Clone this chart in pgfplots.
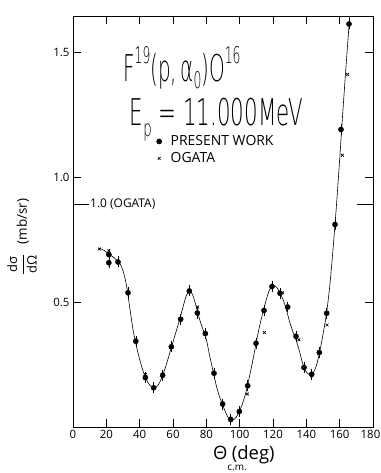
\documentclass[border=0pt]{standalone}
\usepackage{pgfplots}
\pgfplotsset{compat=1.18}
\usepackage{fontspec}
\usepackage{graphicx}
\setmainfont{Open Sans}
\newfontfamily\leroy{DejaVuSans-ExtraLight.ttf}

\newcommand{\titlefont}{\leroy\fontsize{37}{40}\selectfont}
\newcommand{\scriptfnt}{\leroy\fontsize{23}{24}\selectfont}

\begin{document}
\begin{tikzpicture}
\begin{axis}[
  scale only axis, width=300bp, height=411bp,
  xmin=0, xmax=180, ymin=0, ymax=1.644,
  xtick={0,20,...,160},
  extra x ticks={180},
  extra x tick style={xticklabel style={xshift=-2.5bp}},
  ytick={0.5,1.0,1.5},
  y tick label style={/pgf/number format/.cd, fixed, fixed zerofill, precision=1, /tikz/.cd},
  /pgf/number format/assume math mode=true,
  tick align=inside,
  major tick length=8bp,
  tick style={black, line width=0.6pt},
  axis line style={line width=0.8pt},
  ticklabel style={font=\fontsize{11.5}{12}\selectfont},
  extra y ticks={0.89}, extra y tick labels={},
  extra y tick style={major tick length=16bp},
  xlabel={Θ\rlap{\raisebox{-0.58em}{\fontsize{10}{10}\selectfont c.m.}}\hspace{0.25em}(deg)},
  xlabel style={font=\fontsize{18.5}{18.5}\selectfont, at={(axis description cs:0.455,-0.080)}, anchor=base west},
  ylabel={$\displaystyle\frac{\hbox{\fontsize{13}{13}\selectfont dσ}}{\hbox{\fontsize{13}{13}\selectfont dΩ}}$\hspace{10bp}(mb/sr)},
  ylabel style={font=\fontsize{13.5}{13.5}\selectfont, at={(axis description cs:-0.17,0.463)}, anchor=center},
  legend style={draw=none, fill=none, at={(axis cs:48,1.173)}, anchor=north west,
    font=\fontsize{14}{16}\selectfont, row sep=2bp, inner sep=0pt,
    nodes={inner sep=1.5bp, text height=10bp, text depth=2bp}},
  legend cell align=left,
  legend image code/.code={\draw[only marks] plot coordinates {(6bp,0bp)}; \path[draw=none] (0bp,0bp) -- (16bp,0bp);},
]

% fitted curve through the measurements
\addplot[black, line width=0.6pt, smooth, forget plot] coordinates {
(16,0.715)(19,0.705)(22,0.69)(25,0.675)(28,0.655)(30,0.625)(32,0.57)(34,0.48)
(36,0.39)(38,0.325)(40,0.27)(42,0.225)(44,0.19)(46,0.168)(48,0.158)(50,0.16)
(52,0.178)(54,0.21)(56,0.25)(58,0.295)(60,0.34)(62,0.385)(64,0.43)(66,0.48)
(68,0.525)(70,0.545)(72,0.525)(74,0.48)(76,0.43)(78,0.39)(80,0.35)(82,0.285)
(84,0.225)(86,0.165)(88,0.12)(90,0.085)(92,0.052)(94,0.03)(96,0.028)(98,0.04)
(100,0.065)(102,0.1)(104,0.145)(106,0.205)(108,0.27)(110,0.34)(112,0.405)
(114,0.46)(116,0.51)(118,0.55)(120,0.565)(122,0.56)(124,0.54)(126,0.51)
(128,0.47)(130,0.42)(132,0.38)(134,0.345)(136,0.3)(138,0.25)(140,0.22)
(142,0.21)(144,0.215)(146,0.245)(148,0.3)(150,0.37)(152,0.45)(154,0.56)
(156,0.71)(158,0.88)(160,1.07)(162,1.27)(164,1.46)(166,1.64)
};

% present work, with statistical errors
\addplot[black, only marks, mark=*, mark size=2.6bp,
  error bars/.cd, y dir=both, y fixed=0.016, error mark=-,
  error bar style={line width=0.6pt}, error mark options={black, mark size=1.5bp}]
coordinates {
(21.5,0.690)(21.5,0.657)(27.0,0.660)(33.0,0.537)(37.7,0.343)(43.4,0.198)
(48.4,0.157)(53.8,0.207)(59.0,0.321)(64.6,0.431)(69.8,0.544)(74.6,0.456)
(79.4,0.374)(84.6,0.215)(89.8,0.092)(94.6,0.030)(99.8,0.062)(104.8,0.165)
(109.8,0.335)(114.6,0.466)(119.4,0.562)(124.2,0.535)(128.8,0.480)(133.8,0.363)
(138.6,0.238)(143.2,0.211)(147.8,0.298)(152.2,0.455)(157.2,0.810)(160.8,1.190)
(165.6,1.612)
};

% Ogata
\addplot[black, only marks, mark=x, mark size=2bp, line width=0.6pt]
coordinates {
(15.8,0.712)(21.5,0.705)(43.4,0.210)(74.8,0.480)(94.6,0.035)(104.6,0.132)
(114.8,0.378)(125.8,0.537)(135.5,0.349)(143.2,0.205)(152.4,0.408)(161.6,1.087)
(164.8,1.410)
};

\legend{PRESENT WORK, OGATA}

\node[anchor=base west, inner sep=0pt] at (axis cs:30,1.38)
  {\scalebox{0.54}[1]{\titlefont F\raisebox{0.5em}{\scriptfnt 19}(p,\,α\raisebox{-0.18em}{\scriptfnt 0})O\raisebox{0.5em}{\scriptfnt 16}}};
\node[anchor=base west, inner sep=0pt] at (axis cs:34,1.205)
  {\scalebox{0.58}[1]{\titlefont E\raisebox{-0.3em}{\scriptfnt p} = 11.000MeV}};
\node[anchor=west, inner sep=0pt, font=\fontsize{12}{12}\selectfont] at (axis cs:10.2,0.89) {1.0 (OGATA)};
\end{axis}
\pgfresetboundingbox
\path (-73bp,-46bp) rectangle (308bp,427bp);
\end{tikzpicture}
\end{document}
